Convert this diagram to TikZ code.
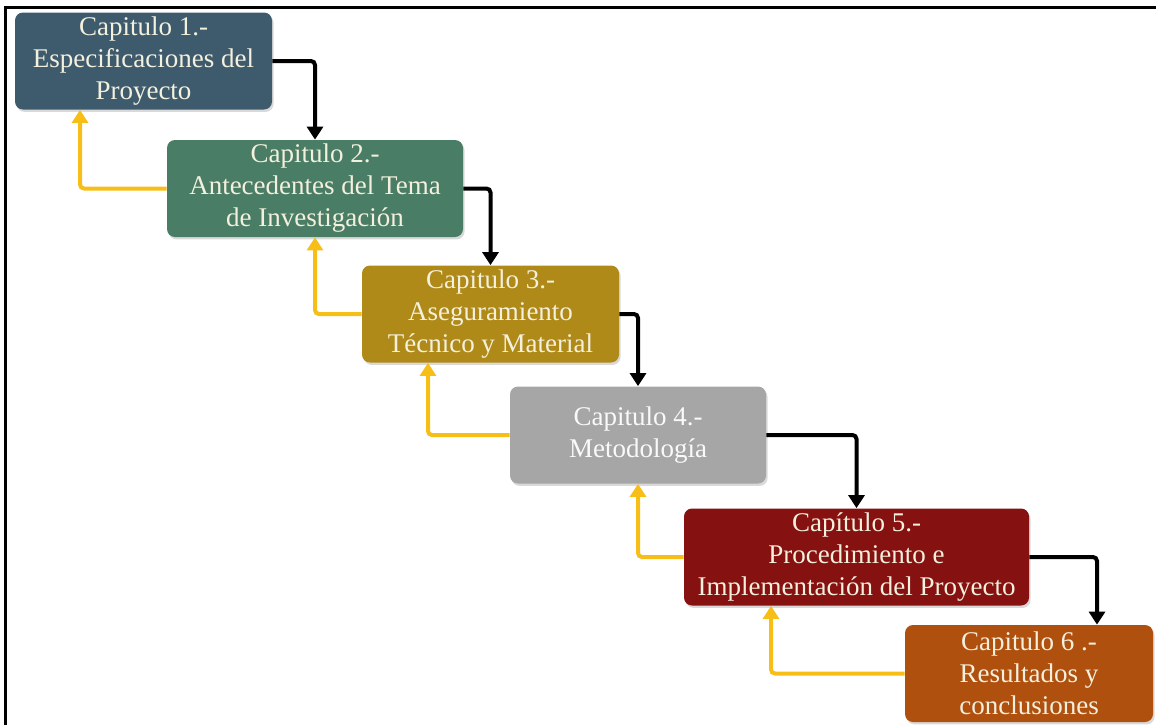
\documentclass[tikz,border=0pt]{standalone}
\usepackage{fontspec}
\setmainfont{Liberation Serif}
\usepackage{tikz}
\usetikzlibrary{%
  arrows.meta,%
  shadows%
}
\definecolor{capuno}{HTML}{3E5B6D}
\definecolor{capdos}{HTML}{4A7D66}
\definecolor{captres}{HTML}{B08A18}
\definecolor{capcuatro}{HTML}{A6A6A6}
\definecolor{capcinco}{HTML}{851110}
\definecolor{capseis}{HTML}{B0500E}
\definecolor{crema}{HTML}{F4F0DE}
\definecolor{amarillo}{HTML}{F6BE17}

\begin{document}
\begin{tikzpicture}[x=0.5pt,y=-0.5pt,
  capbox/.style={rounded corners=4pt, minimum height=48.5pt, inner sep=2pt,
    align=center, text=crema, font=\fontsize{13.5}{16}\selectfont,
    drop shadow={opacity=0.3, shadow xshift=0.8pt, shadow yshift=-1.2pt}},
  sigue/.style={line width=2pt, rounded corners=2pt,
    -{Triangle[length=6.5pt,width=8pt]}},
  vuelve/.style={sigue, draw=amarillo, fill=none, amarillo}]
\useasboundingbox (0,0) rectangle (1156,725);
\draw[line width=1.5pt] (5,725) -- (5,7) -- (1156,7);

\node[capbox, fill=capuno, minimum width=128.5pt] (cap1) at (143.5,61)
  {Capitulo 1.-\\Especificaciones del\\Proyecto};
\node[capbox, fill=capdos, minimum width=148pt] (cap2) at (315,188.5)
  {Capitulo 2.-\\Antecedentes del Tema\\de Investigación};
\node[capbox, fill=captres, minimum width=128.5pt] (cap3) at (490.5,314)
  {Capitulo 3.-\\Aseguramiento\\Técnico y Material};
\node[capbox, fill=capcuatro, minimum width=128pt, text=white!95!gray] (cap4) at (638,435)
  {Capitulo 4.-\\Metodología};
\node[capbox, fill=capcinco, minimum width=172.5pt] (cap5) at (856.5,557)
  {Capítulo 5.-\\Procedimiento e\\Implementación del Proyecto};
\node[capbox, fill=capseis, minimum width=124pt] (cap6) at (1029,673.5)
  {Capitulo 6 .-\\Resultados y\\conclusiones};

% hacia adelante
\draw[sigue] (cap1.east) -| (cap2.north);
\draw[sigue] (cap2.east) -| (cap3.north);
\draw[sigue] (cap3.east) -| (cap4.north);
\draw[sigue] (cap4.east) -| (cap5.north);
\draw[sigue] (cap5.east) -| ([xshift=34pt]cap6.north);

% retorno
\draw[vuelve] (cap2.west) -| ([xshift=-31.75pt]cap1.south);
\draw[vuelve] (cap3.west) -| (cap2.south);
\draw[vuelve] (cap4.west) -| ([xshift=-31.25pt]cap3.south);
\draw[vuelve] (cap5.west) -| (cap4.south);
\draw[vuelve] (cap6.west) -| ([xshift=-42.75pt]cap5.south);
\end{tikzpicture}
\end{document}
